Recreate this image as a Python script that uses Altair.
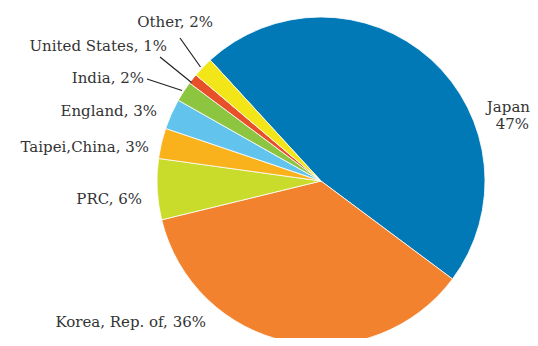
import math
import altair as alt
import pandas as pd

# ---- data ----
categories = ["Japan", "Korea, Rep. of", "PRC", "Taipei,China", "England", "India", "United States", "Other"]
shares = [47, 36, 6, 3, 3, 2, 1, 2]
colors = ["#0079B6", "#F3822E", "#C9DB2B", "#F9B21C", "#62C4EC", "#8CC540", "#E8502A", "#F2E619"]
label_texts = ["Japan", "47%", "Korea, Rep. of, 36%", "PRC, 6%", "Taipei,China, 3%",
               "England, 3%", "India, 2%", "United States, 1%", "Other, 2%"]

# ---- layout (chart pixel coordinates, page minus 8px margin) ----
W, H = 522, 330
CX, CY, R = 313, 173, 164
START = math.radians(-42.5)
label_x = [522, 521, 198, 134, 141, 149, 136, 159, 205]
label_y = [103.5, 120.5, 319, 196, 144, 108, 75, 43, 19]
leaders = [  # x, y, x2, y2
    (172, 30, 192.5, 59),   # Other
    (152, 49, 183.5, 74.5), # United States
    (139, 71, 174, 82.5),   # India
]
FONT = "DejaVu Serif"

df = pd.DataFrame({"category": categories, "share": shares, "order": list(range(len(categories)))})

pie = alt.Chart(df).mark_arc(radius=R, stroke="white", strokeWidth=0.8).encode(
    theta=alt.Theta("share:Q", stack=True, scale=alt.Scale(range=[START, START + 2 * math.pi])),
    order=alt.Order("order:Q"),
    color=alt.Color("category:N", scale=alt.Scale(domain=categories, range=colors), legend=None),
    x=alt.value(CX),
    y=alt.value(CY),
)

lab_df = pd.DataFrame({"label": label_texts, "x": label_x, "y": label_y})
labels = alt.Chart(lab_df).mark_text(
    align="right", baseline="alphabetic", font=FONT, fontSize=15, color="#333333",
).encode(
    x=alt.X("x:Q", scale=None),
    y=alt.Y("y:Q", scale=None),
    text="label:N",
)

lead_df = pd.DataFrame(leaders, columns=["x", "y", "x2", "y2"])
lines = alt.Chart(lead_df).mark_rule(color="#222222", strokeWidth=1.2).encode(
    x=alt.X("x:Q", scale=None),
    y=alt.Y("y:Q", scale=None),
    x2="x2:Q",
    y2="y2:Q",
)

chart = alt.layer(pie, lines, labels).properties(
    width=W, height=H, padding=0, autosize="none"
).configure_view(stroke=None)

chart.save("out.html", embed_options={"renderer": "svg", "actions": False})
